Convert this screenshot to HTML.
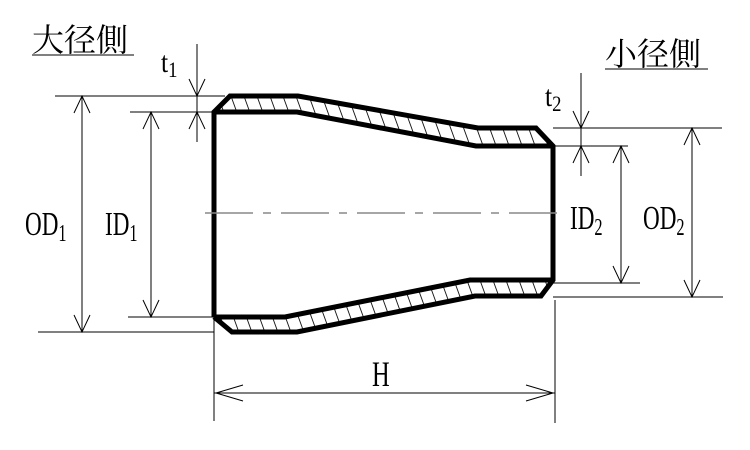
<!DOCTYPE html>
<html><head><meta charset="utf-8"><style>html,body{margin:0;padding:0;background:#fff}svg{display:block}</style></head><body>
<svg width="750" height="450" viewBox="0 0 750 450" xmlns="http://www.w3.org/2000/svg">
<defs>
<pattern id="h" patternUnits="userSpaceOnUse" width="13" height="40" patternTransform="skewX(20)">
<line x1="1" y1="0" x2="1" y2="40" stroke="#000" stroke-width="0.9"/>
</pattern>
</defs>
<polygon points="214,112 230,96 298,96 478,128 536,128 553,146 476,146 297,112" fill="url(#h)"/>
<polygon points="214,317 285,317 470,280 553,280 541,296 475,296 297,332 232,332" fill="url(#h)"/>
<g fill="none" stroke="#000" stroke-width="5" stroke-linejoin="miter">
<polyline points="214,317 214,112 230,96 298,96 478,128 536,128 553,146 553,280 541,296 475,296 297,332 232,332 214,317"/>
<polyline points="214,112 297,112 476,146 553,146"/>
<polyline points="214,317 285,317 470,280 553,280"/>
</g>
<line x1="205" y1="213" x2="562" y2="213" stroke="#888" stroke-width="1.5" stroke-dasharray="48,10,8,10"/>
<g stroke="#000" stroke-width="1" fill="none">
<line x1="55" y1="96" x2="225" y2="96"/>
<line x1="38" y1="332" x2="214" y2="332"/>
<line x1="130" y1="112" x2="214" y2="112"/>
<line x1="128" y1="317" x2="214" y2="317"/>
<line x1="82" y1="96" x2="82" y2="332"/>
<polyline points="74,113 82,96 90,113"/><polyline points="74,315 82,332 90,315"/>
<line x1="151" y1="112" x2="151" y2="317"/>
<polyline points="143,129 151,112 159,129"/><polyline points="143,300 151,317 159,300"/>
<line x1="197" y1="44" x2="197" y2="142"/>
<polyline points="189,79 197,96 205,79"/><polyline points="189,129 197,112 205,129"/>
<line x1="553" y1="128" x2="722" y2="128"/>
<line x1="553" y1="146" x2="628" y2="146"/>
<line x1="553" y1="283" x2="640" y2="283"/>
<line x1="553" y1="297" x2="723" y2="297"/>
<line x1="581" y1="73" x2="581" y2="176"/>
<polyline points="573,111 581,128 589,111"/><polyline points="573,163 581,146 589,163"/>
<line x1="621" y1="146" x2="621" y2="283"/>
<polyline points="613,163 621,146 629,163"/><polyline points="613,266 621,283 629,266"/>
<line x1="692" y1="128" x2="692" y2="297"/>
<polyline points="684,145 692,128 700,145"/><polyline points="684,280 692,297 700,280"/>
<line x1="214" y1="320" x2="214" y2="421"/>
<line x1="555" y1="300" x2="555" y2="423"/>
<line x1="214" y1="393" x2="555" y2="393"/>
<polyline points="243,385 216,393 243,401"/><polyline points="526,385 553,393 526,401"/>
<line x1="32" y1="55" x2="134" y2="55"/>
<line x1="605" y1="69" x2="708" y2="69"/>
</g>
<g font-family="Liberation Serif, serif" fill="#000">
<text x="32" y="51" font-size="32" font-family="Liberation Serif, Noto Serif CJK SC, serif">大径側</text>
<text x="605" y="65" font-size="32" font-family="Liberation Serif, Noto Serif CJK SC, serif">小径側</text>
<g transform="translate(25,235) scale(0.68,1)"><text font-size="34">OD<tspan font-size="24" dy="6">1</tspan></text></g>
<g transform="translate(105,235) scale(0.68,1)"><text font-size="34">ID<tspan font-size="24" dy="6">1</tspan></text></g>
<g transform="translate(570,229) scale(0.68,1)"><text font-size="34">ID<tspan font-size="24" dy="6">2</tspan></text></g>
<g transform="translate(643,229) scale(0.68,1)"><text font-size="34">OD<tspan font-size="24" dy="6">2</tspan></text></g>
<g transform="translate(161,72) scale(0.85,1)"><text font-size="30">t<tspan font-size="22" dy="5">1</tspan></text></g>
<g transform="translate(545,106) scale(0.85,1)"><text font-size="30">t<tspan font-size="22" dy="5">2</tspan></text></g>
<g transform="translate(372,386) scale(0.68,1)"><text font-size="36">H</text></g>
</g>
</svg>
</body></html>
